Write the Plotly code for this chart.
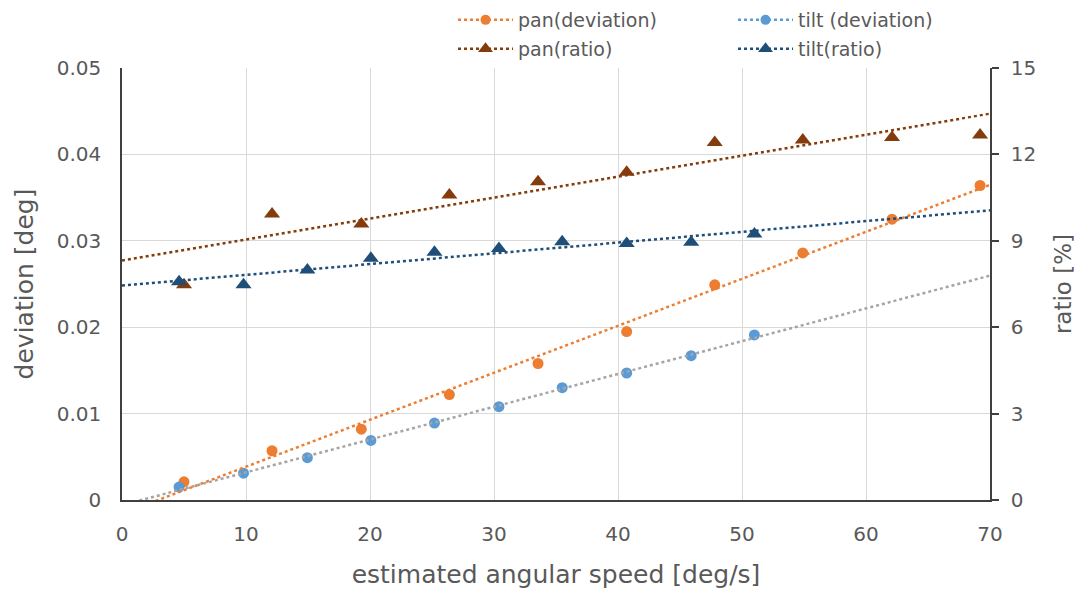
import numpy as np
import plotly.graph_objects as go

# ---- data ----
pan_speed = [5.0, 12.1, 19.3, 26.4, 33.55, 40.7, 47.8, 54.9, 62.1, 69.2]
pan_deviation = [0.0021, 0.0057, 0.0082, 0.0122, 0.0158, 0.0195, 0.0249, 0.0286, 0.0325, 0.0364]
pan_ratio = [7.47, 9.93, 9.58, 10.59, 11.05, 11.38, 12.41, 12.5, 12.59, 12.67]

tilt_speed = [4.6, 9.8, 14.95, 20.07, 25.2, 30.4, 35.5, 40.7, 45.9, 51.0]
tilt_deviation = [0.0015, 0.0031, 0.0049, 0.0069, 0.0089, 0.0108, 0.0130, 0.0147, 0.0167, 0.0191]
tilt_ratio = [7.58, 7.47, 7.99, 8.39, 8.6, 8.73, 8.97, 8.91, 8.95, 9.24]

x_range = [0, 70]
y_dev_range = [0, 0.05]
y_ratio_range = [0, 15]
x_ticks = [0, 10, 20, 30, 40, 50, 60, 70]
y_dev_ticks = [0, 0.01, 0.02, 0.03, 0.04, 0.05]
y_dev_ticktext = ["0", "0.01", "0.02", "0.03", "0.04", "0.05"]
y_ratio_ticks = [0, 3, 6, 9, 12, 15]

C_PAN_DEV = "#ED7D31"
C_TILT_DEV = "#5B9BD5"
C_PAN_RATIO = "#843C0C"
C_TILT_RATIO = "#1F4E79"
C_TREND_TILT_DEV = "#A5A5A5"
FONT = "DejaVu Sans"
TXT = "#595959"


def trend(xs, ys):
    k, b = np.polyfit(xs, ys, 1)
    xx = np.array(x_range, dtype=float)
    return xx, k * xx + b


fig = go.Figure()

series = [
    ("pan(deviation)", pan_speed, pan_deviation, "y", C_PAN_DEV, C_PAN_DEV, "circle", 11, "legend"),
    ("tilt (deviation)", tilt_speed, tilt_deviation, "y", C_TILT_DEV, C_TREND_TILT_DEV, "circle", 11, "legend"),
    ("pan(ratio)", pan_speed, pan_ratio, "y2", C_PAN_RATIO, C_PAN_RATIO, "triangle-up", 14, "legend2"),
    ("tilt(ratio)", tilt_speed, tilt_ratio, "y2", C_TILT_RATIO, C_TILT_RATIO, "triangle-up", 14, "legend2"),
]

# data markers
for name, xs, ys, yax, mc, tc, sym, sz, lg in series:
    fig.add_trace(go.Scatter(x=xs, y=ys, mode="markers", yaxis=yax, name=name,
                             marker=dict(color=mc, symbol=sym, size=sz,
                                         line=dict(width=0)),
                             showlegend=False))

# linear trendlines drawn over the markers (as in the reference)
for name, xs, ys, yax, mc, tc, sym, sz, lg in series:
    tx, ty = trend(xs, ys)
    fig.add_trace(go.Scatter(x=tx, y=ty, mode="lines", yaxis=yax,
                             line=dict(color=tc, width=2.5, dash="dot"),
                             showlegend=False, hoverinfo="skip"))

# legend entries (Excel style: dotted line with marker)
for name, xs, ys, yax, mc, tc, sym, sz, lg in series:
    fig.add_trace(go.Scatter(x=[None], y=[None], mode="lines+markers", yaxis=yax, name=name,
                             marker=dict(color=mc, symbol=sym, size=sz - 1),
                             line=dict(color=mc, width=2.5, dash="dot"),
                             legend=lg, showlegend=True))

legend_common = dict(orientation="h", xref="container", yref="container",
                     xanchor="left", yanchor="middle", entrywidth=210, itemwidth=55,
                     font=dict(family=FONT, size=19, color=TXT), bgcolor="rgba(0,0,0,0)",
                     tracegroupgap=0)

# page body has an 8px margin, so the figure is offset by (8, 8) on screen
fig.update_layout(
    width=1082, height=590,
    margin=dict(l=114, r=100, t=60, b=98, autoexpand=False),
    paper_bgcolor="white", plot_bgcolor="white",
    font=dict(family=FONT, color=TXT, size=20),
    legend=dict(x=0.4113, y=1 - 12 / 590, **legend_common),
    legend2=dict(x=0.4113, y=1 - 41 / 590, **legend_common),
    xaxis=dict(range=x_range, tickvals=x_ticks, showgrid=True, gridcolor="#D9D9D9", gridwidth=1,
               zeroline=False, showline=True, linecolor="#404040", linewidth=1.5,
               ticks="", ticklabelstandoff=15, tickfont=dict(size=20, color=TXT),
               title=dict(text="estimated angular speed [deg/s]", font=dict(size=25, color=TXT), standoff=21)),
    yaxis=dict(range=y_dev_range, tickvals=y_dev_ticks, ticktext=y_dev_ticktext, showgrid=True,
               gridcolor="#D9D9D9", gridwidth=1, zeroline=False, showline=True, linecolor="#404040",
               linewidth=1.5, ticks="", ticklabelstandoff=15, tickfont=dict(size=20, color=TXT),
               title=dict(text="deviation [deg]", font=dict(size=25, color=TXT), standoff=16)),
    yaxis2=dict(range=y_ratio_range, tickvals=y_ratio_ticks, overlaying="y", side="right",
                showgrid=False, zeroline=False, showline=True, linecolor="#404040", linewidth=1.5,
                ticks="outside", ticklen=7, tickcolor="#404040", tickwidth=1.5,
                ticklabelstandoff=8, tickfont=dict(size=20, color=TXT),
                title=dict(text="ratio [%]", font=dict(size=23, color=TXT), standoff=20)),
)

fig.write_html("out.html")
